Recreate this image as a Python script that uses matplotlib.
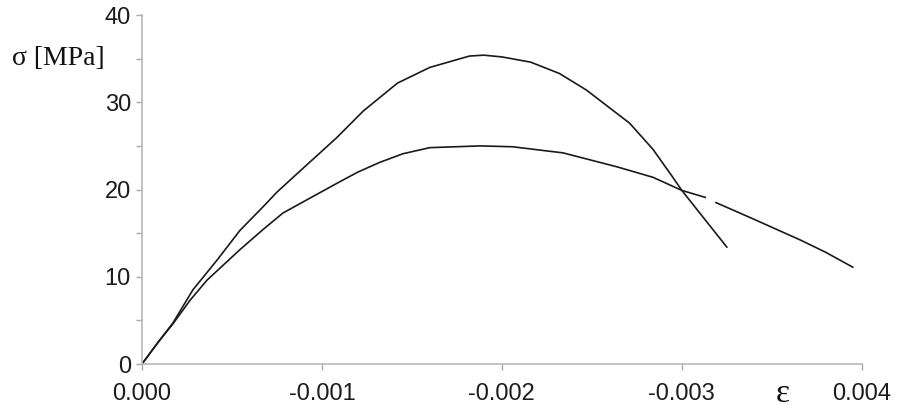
import numpy as np
import matplotlib.pyplot as plt

# strain magnitude (compression, plotted to the right) and stress in MPa
eps_upper = [0.0, 0.00009, 0.000172, 0.000283, 0.000417, 0.000544, 0.000672,
             0.00075, 0.00084, 0.00092, 0.001, 0.00108, 0.00123, 0.00142,
             0.0016, 0.00182, 0.0019, 0.002, 0.00216, 0.00232, 0.00247, 0.00271,
             0.00284, 0.00295, 0.003, 0.0031, 0.00325]
sig_upper = [0.0, 2.5, 4.7, 8.5, 11.9, 15.3, 18.0, 19.7, 21.4, 22.9, 24.4, 25.9,
             29.0, 32.2, 34.0, 35.3, 35.4, 35.2, 34.6, 33.3, 31.4, 27.6, 24.6,
             21.4, 19.9, 17.3, 13.4]

eps_lower = [0.0, 0.00009, 0.000172, 0.000267, 0.000361, 0.000544, 0.000672,
             0.000783, 0.00095, 0.0011, 0.0012, 0.00132, 0.00145, 0.0016,
             0.00188, 0.00206, 0.00234, 0.00264, 0.00284, 0.003, 0.00313,
             0.00316, 0.00319, 0.0034, 0.00366, 0.0038, 0.00395]
sig_lower = [0.0, 2.5, 4.6, 7.3, 9.6, 13.1, 15.4, 17.3, 19.2, 20.9, 22.0, 23.1,
             24.1, 24.8, 25.0, 24.9, 24.2, 22.6, 21.4, 19.9, 19.1, np.nan, 18.5,
             16.6, 14.2, 12.8, 11.1]

x_ticks = [0.0, 0.001, 0.002, 0.003, 0.004]
x_labels = ["0.000", "-0.001", "-0.002", "-0.003", "0.004"]
y_ticks = [0, 10, 20, 30, 40]
y_minor = [5, 15, 25, 35]

fig = plt.figure(figsize=(9.1, 4.12), dpi=100)
ax = fig.add_axes([0.156, 0.1165, 0.791, 0.847])

ax.plot(eps_upper, sig_upper, color="#1a1a1a", lw=1.2)
ax.plot(eps_lower, sig_lower, color="#1a1a1a", lw=1.2)

ax.set_xlim(0, 0.004)
ax.set_ylim(0, 40)

ax.set_xticks(x_ticks)
ax.set_xticklabels(x_labels)
ax.set_yticks(y_ticks)
ax.set_yticks(y_minor, minor=True)

for s in ["top", "right"]:
    ax.spines[s].set_visible(False)
for s in ["left", "bottom"]:
    ax.spines[s].set_color("#b8b8b8")
    ax.spines[s].set_linewidth(1.2)

for lab in ax.get_xticklabels() + ax.get_yticklabels():
    lab.set_fontfamily("Liberation Sans")
    lab.set_fontsize(17)
    lab.set_color("#1c1c1c")

ax.tick_params(axis="both", which="both", direction="out", length=4,
               color="#a8a8a8", width=1)
ax.tick_params(axis="x", pad=10)
ax.tick_params(axis="y", pad=4)

fig.text(0.013, 0.859, "σ [MPa]", family="Liberation Serif", fontsize=20,
         va="center", ha="left", color="#111111")
fig.text(0.86, 0.045, "ε", family="Liberation Serif", fontsize=24,
         va="center", ha="center", color="#111111")

fig.savefig("out.png", dpi=100, facecolor="white")
